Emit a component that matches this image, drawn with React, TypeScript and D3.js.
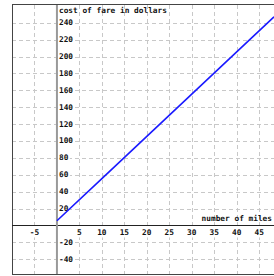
import * as React from "react"
import * as d3 from "d3"

// values
const miles = [0, 10, 20, 30, 40, 48.3]
const fare = [5.5, 55.5, 105.5, 155.5, 205.5, 247]
const xTicks = [-5, 5, 10, 15, 20, 25, 30, 35, 40, 45]
const yTicks = [-40, -20, 20, 40, 60, 80, 100, 120, 140, 160, 180, 200, 220, 240]
const xTitle = "number of miles"
const yTitle = "cost of fare in dollars"

const W = 274
const H = 276
const FONT = "'DejaVu Sans Mono', monospace"

export default function App() {
    const x = d3.scaleLinear().domain([-10, 48.3]).range([12, 274])
    const y = d3.scaleLinear().domain([-57.5, 261]).range([274, 5])

    const line = d3.line<number>()
        .x((_, i) => x(miles[i]))
        .y(d => y(d))

    const gridStyle = { stroke: "#c8c8c8", strokeWidth: 1, strokeDasharray: "4 3" }

    return (
        <svg width={W} height={H} style={{ position: "absolute", left: 0, top: 0, background: "#fff" }}
            fontFamily={FONT} fontSize={7.8} fontWeight="bold">
            {/* grid */}
            {xTicks.map(t => (
                <line key={"gx" + t} x1={Math.round(x(t)) + 0.5} x2={Math.round(x(t)) + 0.5} y1={5} y2={274} {...gridStyle} />
            ))}
            {yTicks.map(t => (
                <line key={"gy" + t} x1={12} x2={274} y1={Math.round(y(t)) + 0.5} y2={Math.round(y(t)) + 0.5} {...gridStyle} />
            ))}

            {/* border */}
            <line x1={12.5} x2={12.5} y1={4.5} y2={274.5} stroke="#444" />
            <line x1={12} x2={274} y1={4.5} y2={4.5} stroke="#444" />
            <line x1={12} x2={274} y1={274.5} y2={274.5} stroke="#444" />

            {/* axes */}
            <line x1={12} x2={274} y1={Math.round(y(0)) + 0.5} y2={Math.round(y(0)) + 0.5} stroke="#222" />
            <line x1={x(0)} x2={x(0)} y1={5} y2={274} stroke="#999" strokeWidth={2} />

            {/* x tick labels */}
            {xTicks.map(t => {
                const s = String(t)
                const w = s.length * 4.7
                return (
                    <g key={"lx" + t}>
                        <rect x={x(t) - w / 2 - 1} y={y(0) + 3} width={w + 2} height={9} fill="#fff" />
                        <text x={x(t)} y={y(0) + 7.5} textAnchor="middle" dominantBaseline="central" fill="#111">{s}</text>
                    </g>
                )
            })}

            {/* y tick labels */}
            {yTicks.map(t => {
                const s = String(t)
                const w = s.length * 4.7
                return (
                    <g key={"ly" + t}>
                        <rect x={x(0) + 1.5} y={y(t) - 4.5} width={w + 2} height={9} fill="#fff" />
                        <text x={x(0) + 2} y={y(t)} dominantBaseline="central" fill="#111">{s}</text>
                    </g>
                )
            })}

            {/* titles */}
            <text x={x(0) + 2} y={10} dominantBaseline="central" fill="#111">{yTitle}</text>
            <text x={272} y={218.5} textAnchor="end" dominantBaseline="central" fill="#111">{xTitle}</text>

            {/* data line */}
            <path d={line(fare) ?? ""} fill="none" stroke="#1a1aff" strokeWidth={1.6} />
        </svg>
    )
}
